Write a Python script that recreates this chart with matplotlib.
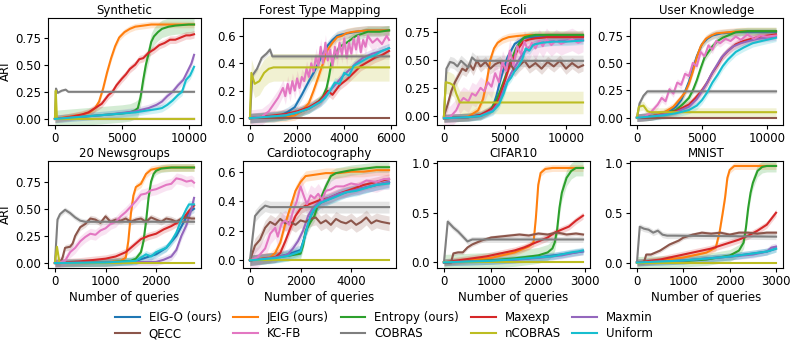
import matplotlib
matplotlib.use("Agg")
import matplotlib.pyplot as plt
from matplotlib.ticker import FormatStrFormatter

METHODS = ["EIG-O (ours)", "JEIG (ours)", "Entropy (ours)", "Maxexp", "Maxmin",
           "QECC", "KC-FB", "COBRAS", "nCOBRAS", "Uniform"]
COLORS = ["#1f77b4", "#ff7f0e", "#2ca02c", "#d62728", "#9467bd",
          "#8c564b", "#e377c2", "#7f7f7f", "#bcbd22", "#17becf"]

TITLES = ["Synthetic", "Forest Type Mapping", "Ecoli", "User Knowledge",
          "20 Newsgroups", "Cardiotocography", "CIFAR10", "MNIST"]

# ---------------- data: name -> (queries, ARI) ----------------
synthetic = {
    "JEIG (ours)": ([0, 1000, 2000, 2600, 3000, 3300, 3600, 3900, 4200, 4500, 4800, 5200, 5600, 6000, 6600, 7200, 8000, 9000, 10000, 10400],
                    [0, 0.02, 0.04, 0.06, 0.1, 0.16, 0.28, 0.43, 0.56, 0.67, 0.75, 0.8, 0.83, 0.85, 0.86, 0.87, 0.87, 0.87, 0.87, 0.87]),
    "Entropy (ours)": ([0, 1000, 2000, 3000, 4000, 5000, 5600, 6000, 6200, 6400, 6600, 6800, 7000, 7200, 7400, 7700, 8000, 8500, 9000, 10000, 10400],
                       [0, 0.01, 0.02, 0.03, 0.04, 0.05, 0.06, 0.08, 0.1, 0.2, 0.36, 0.5, 0.6, 0.71, 0.76, 0.8, 0.83, 0.85, 0.86, 0.87, 0.87]),
    "Maxexp": ([0, 1000, 2000, 2500, 3000, 3500, 4000, 4300, 4600, 5000, 5300, 5600, 6000, 6300, 6600, 7000, 7400, 7800, 8200, 8600, 9000, 9400, 9800, 10100, 10400],
               [0, 0.015, 0.04, 0.06, 0.1, 0.14, 0.22, 0.25, 0.31, 0.37, 0.41, 0.46, 0.5, 0.55, 0.56, 0.61, 0.64, 0.68, 0.7, 0.73, 0.73, 0.75, 0.77, 0.77, 0.78]),
    "Maxmin": ([0, 2000, 4000, 6000, 7000, 7600, 8000, 8400, 8800, 9200, 9600, 10000, 10200, 10400],
               [0, 0.02, 0.04, 0.07, 0.1, 0.13, 0.16, 0.21, 0.25, 0.31, 0.36, 0.46, 0.51, 0.59]),
    "QECC": ([0, 10400], [0, 0]),
    "KC-FB": ([0, 10400], [0, 0]),
    "COBRAS": ([0, 80, 200, 500, 800, 1000, 10400], [0, 0.28, 0.24, 0.26, 0.27, 0.25, 0.25]),
    "nCOBRAS": ([0, 60, 150, 10400], [0, 0.26, 0, 0]),
    "Uniform": ([0, 2000, 4000, 6000, 7000, 7600, 8000, 8400, 8800, 9200, 9500, 9800, 10100, 10400],
                [0, 0.02, 0.04, 0.06, 0.08, 0.09, 0.1, 0.13, 0.17, 0.22, 0.25, 0.36, 0.4, 0.48]),
}

forest = {
    "EIG-O (ours)": ([0, 1000, 1300, 1600, 1900, 2200, 2500, 2700, 2900, 3100, 3300, 3500, 3700, 3900, 4200, 4500, 5000, 5500, 5900],
                     [0, 0.005, 0.02, 0.045, 0.08, 0.17, 0.27, 0.33, 0.4, 0.47, 0.53, 0.57, 0.6, 0.61, 0.62, 0.63, 0.64, 0.64, 0.64]),
    "JEIG (ours)": ([0, 1500, 1900, 2200, 2500, 2700, 2900, 3100, 3300, 3500, 3700, 3900, 4100, 4400, 5000, 5900],
                    [0, 0.01, 0.02, 0.05, 0.11, 0.2, 0.3, 0.4, 0.5, 0.55, 0.59, 0.6, 0.62, 0.63, 0.64, 0.64]),
    "Entropy (ours)": ([0, 1500, 2000, 2500, 2900, 3100, 3250, 3350, 3450, 3600, 3800, 4100, 4500, 5000, 5500, 5900],
                       [0, 0.02, 0.04, 0.07, 0.12, 0.16, 0.22, 0.3, 0.4, 0.46, 0.52, 0.55, 0.6, 0.63, 0.63, 0.64]),
    "Maxexp": ([0, 1500, 2000, 2500, 3000, 3300, 3500, 3800, 4100, 4400, 4700, 5000, 5300, 5600, 5900],
               [0, 0.03, 0.05, 0.08, 0.13, 0.2, 0.17, 0.24, 0.28, 0.33, 0.38, 0.41, 0.44, 0.46, 0.49]),
    "Maxmin": ([0, 1500, 2000, 2500, 3000, 3300, 3600, 3900, 4200, 4500, 4800, 5200, 5600, 5900],
               [0, 0.02, 0.04, 0.07, 0.12, 0.18, 0.24, 0.3, 0.35, 0.4, 0.44, 0.47, 0.49, 0.51]),
    "QECC": ([0, 5900], [0, 0]),
    "KC-FB": ([0, 500, 800, 1000, 1200, 1400, 1500, 1600, 1700, 1800, 1900, 2000, 2100, 2200, 2300, 2400, 2500, 2600, 2700, 2800, 2900, 3000, 3100, 3200, 3300, 3400, 3500, 3600, 3700, 3800, 3900, 4000, 4100, 4200, 4300, 4400, 4500, 4600, 4700, 4800, 4900, 5000, 5200, 5400, 5600, 5800, 5900],
              [0, 0.01, 0.05, 0.1, 0.15, 0.22, 0.16, 0.25, 0.18, 0.27, 0.2, 0.29, 0.22, 0.3, 0.27, 0.36, 0.3, 0.4, 0.34, 0.45, 0.38, 0.52, 0.4, 0.55, 0.42, 0.5, 0.38, 0.52, 0.44, 0.55, 0.46, 0.58, 0.44, 0.55, 0.47, 0.58, 0.5, 0.6, 0.48, 0.57, 0.52, 0.6, 0.55, 0.58, 0.54, 0.6, 0.57]),
    "COBRAS": ([0, 100, 300, 500, 700, 850, 950, 5900], [0, 0.31, 0.36, 0.44, 0.47, 0.5, 0.45, 0.45]),
    "nCOBRAS": ([0, 60, 200, 400, 600, 800, 1000, 5900], [0, 0.33, 0.25, 0.27, 0.33, 0.36, 0.37, 0.37]),
    "Uniform": ([0, 1500, 2000, 2500, 3000, 3200, 3400, 3600, 3800, 4000, 4200, 4400, 4700, 5000, 5300, 5600, 5900],
                [0, 0.02, 0.04, 0.07, 0.12, 0.15, 0.2, 0.26, 0.25, 0.33, 0.31, 0.38, 0.41, 0.44, 0.46, 0.49, 0.51]),
}

ecoli = {
    "EIG-O (ours)": ([0, 1000, 2000, 3000, 3600, 4000, 4300, 4600, 4900, 5200, 5500, 5800, 6100, 6500, 7000, 8000, 9000, 10000, 11400],
                     [-0.02, -0.015, -0.01, 0.01, 0.04, 0.08, 0.18, 0.31, 0.42, 0.52, 0.58, 0.64, 0.66, 0.69, 0.7, 0.7, 0.71, 0.71, 0.71]),
    "JEIG (ours)": ([0, 1000, 2000, 2800, 3200, 3500, 3800, 4100, 4400, 4800, 5300, 6000, 7000, 8000, 10000, 11400],
                    [-0.02, -0.015, -0.005, 0.05, 0.15, 0.3, 0.5, 0.6, 0.65, 0.68, 0.7, 0.71, 0.72, 0.72, 0.72, 0.72]),
    "Entropy (ours)": ([0, 1000, 2000, 3000, 3800, 4300, 4600, 4900, 5200, 5500, 5900, 6200, 6600, 7000, 7500, 8500, 10000, 11400],
                       [-0.02, -0.015, -0.01, 0.0, 0.05, 0.14, 0.22, 0.31, 0.4, 0.49, 0.6, 0.65, 0.7, 0.71, 0.72, 0.72, 0.72, 0.72]),
    "Maxexp": ([0, 1000, 2000, 3000, 4000, 4500, 4900, 5300, 5700, 6100, 6500, 7000, 7500, 8500, 10000, 11400],
               [-0.02, -0.015, -0.01, 0.01, 0.07, 0.15, 0.28, 0.42, 0.51, 0.6, 0.66, 0.68, 0.69, 0.7, 0.7, 0.7]),
    "Maxmin": ([0, 1000, 2000, 3000, 4000, 4500, 5000, 5500, 6000, 6500, 7000, 7500, 8500, 10000, 11400],
               [-0.02, -0.015, -0.01, 0.0, 0.05, 0.12, 0.26, 0.38, 0.47, 0.56, 0.61, 0.64, 0.66, 0.67, 0.68]),
    "QECC": ([0, 300, 600, 900, 1200, 1500, 1800, 2100, 2400, 2700, 3000, 3400, 3800, 4200, 4600, 5000, 5400, 5800, 6200, 6600, 7000, 7500, 8000, 8500, 9000, 9500, 10000, 10500, 11000, 11400],
             [0, 0.1, 0.22, 0.3, 0.36, 0.42, 0.4, 0.46, 0.41, 0.49, 0.44, 0.48, 0.42, 0.46, 0.48, 0.42, 0.47, 0.4, 0.45, 0.49, 0.43, 0.47, 0.42, 0.48, 0.44, 0.49, 0.42, 0.47, 0.43, 0.45]),
    "KC-FB": ([0, 500, 1000, 1300, 1600, 2000, 2300, 2600, 3000, 3300, 3600, 3900, 4200, 4500, 4800, 5100, 5400, 5700, 6000, 6300, 6600, 6900, 7200, 7500, 7800, 8100, 8400, 8800, 9200, 9600, 10000, 10500, 11000, 11400],
              [-0.02, -0.01, 0.05, 0.12, 0.16, 0.13, 0.2, 0.18, 0.25, 0.22, 0.3, 0.26, 0.38, 0.3, 0.48, 0.4, 0.58, 0.45, 0.62, 0.55, 0.66, 0.58, 0.65, 0.6, 0.67, 0.62, 0.68, 0.63, 0.67, 0.64, 0.66, 0.68, 0.65, 0.67]),
    "COBRAS": ([0, 200, 500, 800, 1100, 1400, 1700, 2000, 2300, 2600, 11400],
               [0, 0.42, 0.48, 0.47, 0.44, 0.49, 0.46, 0.43, 0.52, 0.49, 0.49]),
    "nCOBRAS": ([0, 150, 500, 800, 1000, 1300, 11400], [0, 0.3, 0.29, 0.27, 0.2, 0.12, 0.12]),
    "Uniform": ([0, 1000, 2000, 3000, 4000, 4500, 4900, 5200, 5500, 5800, 6100, 6400, 6700, 7000, 7300, 7600, 8000, 9000, 10000, 11400],
                [-0.02, -0.015, -0.01, 0.0, 0.04, 0.1, 0.2, 0.3, 0.34, 0.4, 0.44, 0.5, 0.6, 0.58, 0.63, 0.64, 0.65, 0.66, 0.66, 0.67]),
}

user_knowledge = {
    "EIG-O (ours)": ([0, 1000, 2000, 2500, 3000, 3400, 3700, 4000, 4300, 4600, 5000, 5400, 5800, 6500, 7500, 8500, 10700],
                     [0, 0.01, 0.03, 0.06, 0.1, 0.16, 0.24, 0.33, 0.45, 0.56, 0.67, 0.72, 0.75, 0.77, 0.78, 0.78, 0.78]),
    "JEIG (ours)": ([0, 1000, 2000, 2800, 3300, 3700, 4000, 4300, 4600, 4900, 5300, 5700, 6100, 7000, 8000, 10700],
                    [0, 0.01, 0.04, 0.1, 0.17, 0.23, 0.31, 0.42, 0.55, 0.65, 0.72, 0.75, 0.77, 0.78, 0.79, 0.79]),
    "Entropy (ours)": ([0, 1000, 2000, 3000, 3500, 4000, 4300, 4600, 4900, 5200, 5500, 5800, 6200, 6600, 7000, 7600, 8500, 10700],
                       [0, 0.01, 0.03, 0.07, 0.12, 0.18, 0.25, 0.34, 0.45, 0.55, 0.6, 0.65, 0.7, 0.73, 0.75, 0.78, 0.79, 0.79]),
    "Maxexp": ([0, 1000, 2000, 3000, 4000, 4500, 5000, 5400, 5800, 6200, 6600, 7000, 7600, 8200, 8800, 9500, 10700],
               [0, 0.01, 0.03, 0.06, 0.12, 0.18, 0.25, 0.32, 0.41, 0.48, 0.56, 0.61, 0.67, 0.7, 0.72, 0.74, 0.76]),
    "Maxmin": ([0, 1000, 2000, 3000, 4000, 4600, 5000, 5300, 5700, 6100, 6500, 6900, 7400, 8000, 8600, 9300, 10700],
               [0, 0.01, 0.03, 0.05, 0.1, 0.17, 0.24, 0.3, 0.39, 0.47, 0.55, 0.6, 0.65, 0.68, 0.7, 0.72, 0.74]),
    "QECC": ([0, 10700], [0, 0]),
    "KC-FB": ([0, 600, 1000, 1300, 1600, 1900, 2200, 2500, 2800, 3100, 3400, 3700, 4000, 4300, 4600, 4900, 5200, 5500, 5800, 6100, 6400, 6800, 7200, 7600, 8000, 8500, 9000, 9500, 10000, 10700],
              [0, 0.01, 0.04, 0.08, 0.12, 0.18, 0.15, 0.26, 0.22, 0.32, 0.3, 0.4, 0.38, 0.5, 0.47, 0.6, 0.56, 0.66, 0.62, 0.7, 0.68, 0.72, 0.7, 0.74, 0.71, 0.76, 0.72, 0.75, 0.74, 0.75]),
    "COBRAS": ([0, 200, 500, 800, 1000, 10700], [0, 0.13, 0.2, 0.24, 0.24, 0.24]),
    "nCOBRAS": ([0, 150, 500, 800, 1000, 10700], [0, 0.1, 0.11, 0.06, 0.05, 0.05]),
    "Uniform": ([0, 1000, 2000, 3000, 4000, 4600, 5000, 5400, 5800, 6200, 6600, 7000, 7600, 8200, 8900, 9600, 10700],
                [0, 0.01, 0.02, 0.04, 0.07, 0.11, 0.16, 0.23, 0.32, 0.39, 0.47, 0.53, 0.6, 0.64, 0.68, 0.7, 0.73]),
}

newsgroups = {
    "EIG-O (ours)": ([0, 1000, 1600, 1800, 2000, 2200, 2400, 2550, 2650, 2750],
                     [0, 0.005, 0.02, 0.05, 0.08, 0.14, 0.25, 0.38, 0.47, 0.5]),
    "JEIG (ours)": ([0, 1000, 1300, 1400, 1450, 1500, 1550, 1600, 1700, 1800, 1900, 2000, 2200, 2750],
                    [0, 0.005, 0.02, 0.05, 0.2, 0.45, 0.62, 0.7, 0.73, 0.82, 0.86, 0.87, 0.88, 0.88]),
    "Entropy (ours)": ([0, 1000, 1500, 1600, 1700, 1750, 1800, 1850, 1900, 1950, 2000, 2100, 2300, 2750],
                       [0, 0.005, 0.02, 0.04, 0.1, 0.2, 0.38, 0.6, 0.75, 0.82, 0.85, 0.87, 0.88, 0.88]),
    "Maxexp": ([0, 500, 1000, 1200, 1400, 1550, 1700, 1850, 2000, 2150, 2300, 2450, 2550, 2650, 2750],
               [0, 0.015, 0.04, 0.06, 0.1, 0.16, 0.22, 0.25, 0.27, 0.31, 0.34, 0.38, 0.42, 0.48, 0.53]),
    "Maxmin": ([0, 1000, 2000, 2150, 2300, 2400, 2500, 2600, 2700, 2750],
               [0, 0.005, 0.01, 0.03, 0.06, 0.12, 0.25, 0.35, 0.5, 0.6]),
    "QECC": ([0, 100, 150, 200, 300, 350, 400, 500, 600, 700, 800, 900, 1000, 1100, 1200, 1300, 1400, 1500, 1600, 1700, 1800, 1900, 2000, 2100, 2200, 2300, 2400, 2500, 2600, 2700, 2750],
             [0, 0, 0.05, 0.14, 0.15, 0.18, 0.25, 0.33, 0.36, 0.41, 0.4, 0.37, 0.43, 0.38, 0.4, 0.39, 0.41, 0.38, 0.4, 0.41, 0.38, 0.42, 0.4, 0.38, 0.41, 0.4, 0.38, 0.41, 0.42, 0.41, 0.41]),
    "KC-FB": ([0, 200, 300, 400, 500, 600, 700, 800, 900, 1000, 1100, 1200, 1300, 1400, 1500, 1600, 1700, 1800, 1900, 2000, 2100, 2200, 2300, 2400, 2500, 2600, 2700, 2750],
              [0, 0.02, 0.1, 0.14, 0.2, 0.24, 0.27, 0.26, 0.3, 0.32, 0.36, 0.38, 0.43, 0.47, 0.52, 0.57, 0.63, 0.64, 0.67, 0.68, 0.7, 0.72, 0.73, 0.78, 0.77, 0.75, 0.76, 0.74]),
    "COBRAS": ([0, 50, 100, 200, 300, 400, 500, 600, 2750], [0, 0.4, 0.45, 0.49, 0.46, 0.42, 0.39, 0.38, 0.38]),
    "nCOBRAS": ([0, 40, 90, 2750], [0, 0.15, 0, 0]),
    "Uniform": ([0, 1000, 1600, 1700, 1800, 1900, 2000, 2100, 2200, 2300, 2400, 2500, 2600, 2650, 2750],
                [0, 0.005, 0.02, 0.05, 0.08, 0.06, 0.1, 0.12, 0.14, 0.2, 0.28, 0.4, 0.5, 0.54, 0.54]),
}

cardio = {
    "EIG-O (ours)": ([0, 1000, 1500, 2000, 2200, 2400, 2600, 2800, 3200, 3600, 4000, 4500, 5000, 5500],
                     [0, 0.02, 0.04, 0.07, 0.18, 0.3, 0.36, 0.39, 0.42, 0.45, 0.47, 0.49, 0.51, 0.53]),
    "JEIG (ours)": ([0, 800, 1000, 1200, 1400, 1600, 1800, 2000, 2200, 2600, 3000, 3500, 4000, 4500, 5000, 5500],
                    [0, 0.02, 0.05, 0.12, 0.25, 0.36, 0.47, 0.53, 0.57, 0.58, 0.59, 0.59, 0.6, 0.6, 0.61, 0.61]),
    "Entropy (ours)": ([0, 1000, 1500, 2000, 2100, 2200, 2300, 2400, 2550, 2700, 2850, 3000, 3200, 3400, 3700, 4000, 4500, 5000, 5500],
                       [0, 0.02, 0.03, 0.045, 0.1, 0.2, 0.23, 0.26, 0.3, 0.38, 0.44, 0.5, 0.57, 0.59, 0.6, 0.61, 0.62, 0.63, 0.63]),
    "Maxexp": ([0, 1000, 1200, 1400, 1600, 1800, 2000, 2200, 2500, 2800, 3100, 3500, 4000, 4500, 5000, 5500],
               [0, 0.02, 0.05, 0.13, 0.22, 0.3, 0.35, 0.37, 0.39, 0.41, 0.42, 0.45, 0.48, 0.51, 0.53, 0.55]),
    "Maxmin": ([0, 1000, 1300, 1500, 1700, 1900, 2100, 2300, 2500, 2800, 3100, 3500, 4000, 4500, 5000, 5500],
               [0, 0.02, 0.03, 0.04, 0.08, 0.13, 0.2, 0.3, 0.36, 0.4, 0.42, 0.45, 0.47, 0.49, 0.51, 0.53]),
    "QECC": ([0, 200, 400, 600, 800, 1000, 1200, 1400, 1600, 1800, 2000, 2200, 2400, 2600, 2800, 3000, 3200, 3400, 3600, 3800, 4000, 4200, 4400, 4600, 4800, 5000, 5200, 5500],
             [0, 0.1, 0.14, 0.22, 0.26, 0.24, 0.28, 0.25, 0.26, 0.24, 0.27, 0.26, 0.28, 0.29, 0.25, 0.27, 0.24, 0.28, 0.26, 0.25, 0.27, 0.24, 0.26, 0.29, 0.25, 0.27, 0.26, 0.25]),
    "KC-FB": ([0, 300, 600, 800, 1000, 1100, 1250, 1400, 1550, 1700, 1850, 2000, 2100, 2250, 2400, 2550, 2700, 2850, 3000, 3200, 3400, 3700, 4000, 4300, 4600, 5000, 5300, 5500],
              [0, 0.02, 0.08, 0.18, 0.22, 0.16, 0.25, 0.27, 0.24, 0.33, 0.4, 0.5, 0.45, 0.38, 0.44, 0.42, 0.45, 0.41, 0.47, 0.48, 0.5, 0.5, 0.52, 0.51, 0.54, 0.53, 0.55, 0.55]),
    "COBRAS": ([0, 200, 400, 600, 800, 5500], [0, 0.3, 0.34, 0.37, 0.36, 0.36]),
    "nCOBRAS": ([0, 5500], [0, 0]),
    "Uniform": ([0, 1000, 1500, 2000, 2150, 2300, 2450, 2600, 2800, 3100, 3400, 3800, 4200, 4600, 5000, 5500],
                [0, 0.015, 0.03, 0.06, 0.15, 0.25, 0.32, 0.36, 0.39, 0.41, 0.43, 0.46, 0.47, 0.49, 0.51, 0.52]),
}

cifar10 = {
    "EIG-O (ours)": ([0, 1000, 1500, 2000, 2500, 2800, 2950], [0, 0.015, 0.03, 0.05, 0.08, 0.1, 0.11]),
    "JEIG (ours)": ([0, 500, 1000, 1500, 1800, 1900, 1950, 2000, 2050, 2150, 2300, 2500, 2950],
                    [0, 0.02, 0.045, 0.1, 0.16, 0.2, 0.45, 0.78, 0.9, 0.94, 0.95, 0.95, 0.95]),
    "Entropy (ours)": ([0, 1000, 1500, 2000, 2200, 2300, 2350, 2400, 2450, 2500, 2600, 2700, 2800, 2950],
                       [0, 0.02, 0.04, 0.07, 0.1, 0.14, 0.2, 0.33, 0.55, 0.7, 0.85, 0.92, 0.95, 0.95]),
    "Maxexp": ([0, 300, 600, 900, 1200, 1500, 1700, 1900, 2050, 2200, 2350, 2500, 2650, 2800, 2950],
               [0, 0.02, 0.04, 0.06, 0.09, 0.12, 0.15, 0.19, 0.22, 0.25, 0.3, 0.33, 0.36, 0.42, 0.47]),
    "Maxmin": ([0, 1000, 1500, 2000, 2500, 2800, 2950], [0, 0.015, 0.025, 0.045, 0.07, 0.1, 0.11]),
    "QECC": ([0, 150, 200, 300, 400, 500, 600, 700, 800, 1000, 1200, 1400, 1600, 1800, 2000, 2200, 2400, 2600, 2800, 2950],
             [0, 0, 0.09, 0.1, 0.1, 0.15, 0.18, 0.2, 0.22, 0.25, 0.26, 0.27, 0.28, 0.27, 0.29, 0.28, 0.3, 0.28, 0.29, 0.28]),
    "COBRAS": ([0, 80, 200, 300, 400, 500, 600, 700, 2950], [0, 0.41, 0.35, 0.31, 0.26, 0.21, 0.23, 0.23, 0.23]),
    "nCOBRAS": ([0, 2950], [0, 0]),
    "Uniform": ([0, 1000, 1500, 2000, 2300, 2500, 2700, 2850, 2950], [0, 0.015, 0.03, 0.05, 0.06, 0.08, 0.1, 0.11, 0.12]),
}

mnist = {
    "EIG-O (ours)": ([0, 1000, 2000, 2500, 2800, 3000], [0, 0.02, 0.06, 0.09, 0.11, 0.14]),
    "JEIG (ours)": ([0, 500, 1000, 1500, 1700, 1780, 1850, 1900, 1950, 2000, 2100, 2300, 3000],
                    [0, 0.02, 0.05, 0.1, 0.15, 0.3, 0.5, 0.65, 0.85, 0.93, 0.97, 0.97, 0.97]),
    "Entropy (ours)": ([0, 1000, 1500, 2000, 2200, 2300, 2350, 2400, 2450, 2500, 2600, 2700, 2800, 3000],
                       [0, 0.015, 0.03, 0.07, 0.12, 0.2, 0.35, 0.55, 0.7, 0.8, 0.92, 0.96, 0.97, 0.97]),
    "Maxexp": ([0, 500, 800, 1000, 1200, 1400, 1600, 1800, 2000, 2200, 2400, 2600, 2800, 2900, 3000],
               [0, 0.03, 0.06, 0.08, 0.1, 0.12, 0.14, 0.17, 0.2, 0.23, 0.27, 0.32, 0.38, 0.44, 0.5]),
    "Maxmin": ([0, 1000, 2000, 2500, 2800, 2900, 3000], [0, 0.02, 0.06, 0.08, 0.11, 0.15, 0.16]),
    "QECC": ([0, 150, 200, 300, 400, 500, 600, 700, 800, 900, 1000, 1200, 1400, 1600, 1800, 2000, 2200, 2400, 2600, 2800, 3000],
             [0, 0, 0.08, 0.08, 0.1, 0.12, 0.15, 0.18, 0.2, 0.22, 0.25, 0.28, 0.3, 0.29, 0.3, 0.28, 0.3, 0.3, 0.29, 0.3, 0.3]),
    "COBRAS": ([0, 60, 150, 250, 350, 450, 550, 650, 800, 3000], [0, 0.36, 0.34, 0.33, 0.3, 0.32, 0.28, 0.27, 0.27, 0.26]),
    "nCOBRAS": ([0, 3000], [0, 0]),
    "Uniform": ([0, 1000, 2000, 2500, 2800, 3000], [0, 0.02, 0.06, 0.09, 0.11, 0.14]),
}

PANELS = [synthetic, forest, ecoli, user_knowledge, newsgroups, cardio, cifar10, mnist]

# half-width of the shaded spread, per panel and method
BANDS = [
    {"Entropy (ours)": 0.08, "JEIG (ours)": 0.03, "COBRAS": 0.01, "nCOBRAS": 0.004, "QECC": 0.003, "KC-FB": 0.003},
    {"COBRAS": 0.02, "nCOBRAS": 0.1, "KC-FB": 0.06, "QECC": 0.003},
    {"COBRAS": 0.05, "nCOBRAS": 0.1, "QECC": 0.05, "KC-FB": 0.1},
    {"COBRAS": 0.02, "nCOBRAS": 0.04, "QECC": 0.003},
    {"COBRAS": 0.025, "QECC": 0.03, "KC-FB": 0.05, "nCOBRAS": 0.003},
    {"COBRAS": 0.04, "QECC": 0.05, "KC-FB": 0.07, "nCOBRAS": 0.003},
    {"COBRAS": 0.03, "QECC": 0.02, "Entropy (ours)": 0.08, "nCOBRAS": 0.003},
    {"COBRAS": 0.03, "QECC": 0.02, "Entropy (ours)": 0.06, "nCOBRAS": 0.003},
]
DEFAULT_BAND = 0.035

XTICKS = [[0, 5000, 10000], [0, 2000, 4000, 6000], [0, 5000, 10000], [0, 5000, 10000],
          [0, 1000, 2000], [0, 2000, 4000], [0, 1000, 2000, 3000], [0, 1000, 2000, 3000]]
YTICKS = [[0, 0.25, 0.5, 0.75], [0, 0.2, 0.4, 0.6], [0, 0.25, 0.5, 0.75], [0, 0.25, 0.5, 0.75],
          [0, 0.25, 0.5, 0.75], [0, 0.2, 0.4, 0.6], [0, 0.5, 1.0], [0, 0.5, 1.0]]
YLIMS = [(-0.056, 0.93), (-0.05, 0.73), (-0.08, 0.87), (-0.067, 0.91),
         (-0.046, 0.94), (-0.052, 0.672), (-0.057, 1.02), (-0.055, 1.02)]
YFMT = ["%.2f", "%.1f", "%.2f", "%.2f", "%.2f", "%.1f", "%.1f", "%.1f"]

# ---------------- figure ----------------
FS = 8.5
plt.rcParams["font.family"] = ["DejaVu Sans"]
plt.rcParams["font.size"] = FS
fig = plt.figure(figsize=(7.93, 3.49), dpi=100)

W, H = 793.0, 349.0
col_left = [48, 243, 437, 630]
row_top = [18, 161]
ax_w, ax_h = 153, 107

handles = {}
for i, panel in enumerate(PANELS):
    r, c = divmod(i, 4)
    ax = fig.add_axes([col_left[c] / W, 1 - (row_top[r] + ax_h) / H, ax_w / W, ax_h / H])
    for name, color in zip(METHODS, COLORS):
        if name not in panel:
            continue
        xs, ys = panel[name]
        b = BANDS[i].get(name, DEFAULT_BAND)
        ax.fill_between(xs, [v - b for v in ys], [v + b for v in ys],
                        color=color, alpha=0.2, linewidth=0)
        ln, = ax.plot(xs, ys, color=color, lw=1.5, label=name)
        handles[name] = ln
    ax.set_title(TITLES[i], fontsize=FS, pad=3)
    ax.set_xticks(XTICKS[i])
    ax.set_yticks(YTICKS[i])
    ax.set_ylim(*YLIMS[i])
    ax.yaxis.set_major_formatter(FormatStrFormatter(YFMT[i]))
    ax.tick_params(labelsize=FS, length=3, pad=2)
    if c == 0:
        ax.set_ylabel("ARI", fontsize=FS, labelpad=2)
    if r == 1:
        ax.set_xlabel("Number of queries", fontsize=FS, labelpad=2)

# legend shown row-wise: top row first five methods, bottom row last five
order = []
for k in range(5):
    order += [METHODS[k], METHODS[k + 5]]
fig.legend([handles[n] for n in order], order, loc="center", ncol=5, frameon=False,
           fontsize=FS, bbox_to_anchor=(384 / W, 1 - 325.5 / H),
           columnspacing=1.0, handlelength=2.1, handletextpad=0.75, labelspacing=0.3)

fig.savefig("out.png", dpi=100)
